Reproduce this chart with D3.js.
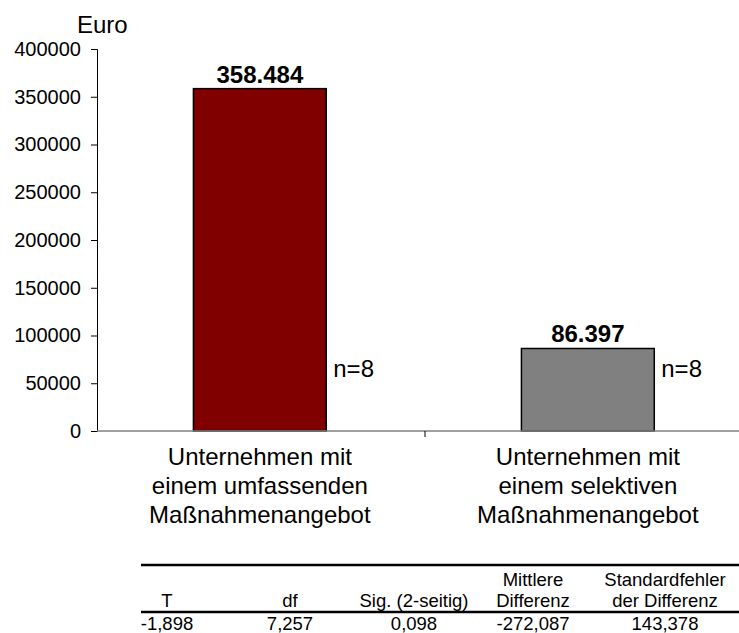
<!DOCTYPE html>
<html><head><meta charset="utf-8">
<script src="https://cdn.jsdelivr.net/npm/d3@7"></script>
<style>body{margin:0;background:#fff}svg{display:block}text{font-family:"Liberation Sans",Arial,sans-serif;fill:#000}</style>
</head><body><svg id="c" width="739" height="633"></svg>
<script>
const categories = [
  ["Unternehmen mit","einem umfassenden","Maßnahmenangebot"],
  ["Unternehmen mit","einem selektiven","Maßnahmenangebot"]
];
const catKeys = ["umfassend","selektiv"];
const values = [358484, 86397];
const valueLabels = ["358.484","86.397"];
const nLabels = ["n=8","n=8"];
const barColors = ["#800000","#808080"];
const yTicks = [0,50000,100000,150000,200000,250000,300000,350000,400000];
const yLabel = "Euro";
const tableHeader1 = ["","","","Mittlere","Standardfehler"];
const tableHeader2 = ["T","df","Sig. (2-seitig)","Differenz","der Differenz"];
const tableValues = ["-1,898","7,257","0,098","-272,087","143,378"];
const tableCols = [167,290,414,533,665];

const svg = d3.select("#c");
const y = d3.scaleLinear().domain([0,400000]).range([431,49]);
const x = d3.scaleBand().domain(catKeys).range([97,753]).padding(0);
const bw = x.bandwidth();

// bars
svg.selectAll("rect.bar").data(values).join("rect")
  .attr("x",(d,i)=>x(catKeys[i])+bw*0.294)
  .attr("width",bw*0.405)
  .attr("y",d=>y(d))
  .attr("height",d=>y(0)-y(d))
  .attr("fill",(d,i)=>barColors[i])
  .attr("stroke","#000").attr("stroke-width",1.5);

// y axis
const ya = svg.append("g").attr("transform","translate(97,0)")
  .call(d3.axisLeft(y).tickValues(yTicks).tickFormat(d3.format("d")).tickSize(6).tickPadding(10));
ya.selectAll("text").style("font-size","20px");
ya.select(".domain").attr("stroke","#000");

// x axis
const xa = svg.append("g").attr("transform","translate(0,431)");
xa.append("line").attr("x1",97).attr("x2",739).attr("stroke","#808080").attr("stroke-width",1.5);
xa.append("line").attr("x1",x(catKeys[1])).attr("x2",x(catKeys[1])).attr("y1",0).attr("y2",6).attr("stroke","#000");

svg.append("text").attr("x",77).attr("y",33).style("font-size","24px").text(yLabel);

// value labels
svg.selectAll("text.val").data(values).join("text")
  .attr("x",(d,i)=>x(catKeys[i])+bw*0.294+bw*0.2025)
  .attr("y",d=>y(d)-6)
  .attr("text-anchor","middle").style("font-size","24px").style("font-weight","bold")
  .text((d,i)=>valueLabels[i]);

// n labels
svg.selectAll("text.n").data(values).join("text")
  .attr("x",(d,i)=>x(catKeys[i])+bw*0.699+7)
  .attr("y",377)
  .style("font-size","24px")
  .text((d,i)=>nLabels[i]);

// category labels
categories.forEach((lines,i)=>{
  lines.forEach((t,j)=>{
    svg.append("text").attr("x",x(catKeys[i])+bw*0.4965).attr("y",465+j*29)
      .attr("text-anchor","middle").style("font-size","24px").text(t);
  });
});

// table
const tg = svg.append("g");
tg.append("line").attr("x1",141).attr("x2",739).attr("y1",565).attr("y2",565).attr("stroke","#000").attr("stroke-width",2.5);
tg.append("line").attr("x1",141).attr("x2",739).attr("y1",612).attr("y2",612).attr("stroke","#000").attr("stroke-width",2.5);
tableHeader1.forEach((t,i)=>tg.append("text").attr("x",tableCols[i]).attr("y",586).attr("text-anchor","middle").style("font-size","18.5px").text(t));
tableHeader2.forEach((t,i)=>tg.append("text").attr("x",tableCols[i]).attr("y",607).attr("text-anchor","middle").style("font-size","18.5px").text(t));
tableValues.forEach((t,i)=>tg.append("text").attr("x",tableCols[i]).attr("y",630).attr("text-anchor","middle").style("font-size","18.5px").text(t));
</script></body></html>
